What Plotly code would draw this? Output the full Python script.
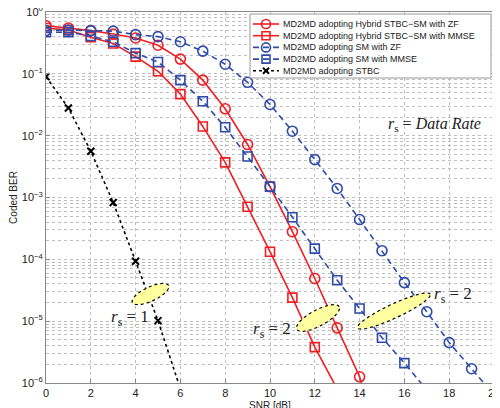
import numpy as np
import plotly.graph_objects as go

# ---------------- data ----------------
hyb_zf_x = list(range(0, 16))
hyb_zf = [0.6, 0.55, 0.50, 0.44, 0.38, 0.29, 0.173, 0.079, 0.0272, 0.0072,
          0.0015, 2.8e-4, 4.9e-5, 7.8e-6, 1.26e-6, 7e-8]

hyb_mmse_x = list(range(0, 14))
hyb_mmse = [0.55, 0.51, 0.39, 0.31, 0.19, 0.11, 0.047, 0.0141, 0.0037, 7.1e-4,
            1.33e-4, 2.4e-5, 3.8e-6, 8e-7]

sm_zf_x = list(range(0, 21))
sm_zf = [0.50, 0.51, 0.50, 0.49, 0.43, 0.40, 0.33, 0.233, 0.143, 0.073,
         0.032, 0.0118, 0.0041, 0.0014, 4.4e-4, 1.38e-4, 4.2e-5, 1.42e-5,
         4.5e-6, 1.7e-6, 6.4e-7]

sm_mmse_x = list(range(0, 18))
sm_mmse = [0.47, 0.47, 0.41, 0.33, 0.216, 0.155, 0.079, 0.036, 0.0137, 0.0046,
           0.0015, 4.8e-4, 1.49e-4, 4.6e-5, 1.6e-5, 5.4e-6, 2.1e-6, 7.7e-7]

stbc_x = list(range(0, 7))
stbc = [0.09, 0.028, 0.0056, 8.3e-4, 9.3e-5, 1.02e-5, 8e-7]

names = ["MD2MD adopting Hybrid STBC\u2212SM with ZF",
         "MD2MD adopting Hybrid STBC\u2212SM with MMSE",
         "MD2MD adopting SM with ZF",
         "MD2MD adopting SM with MMSE",
         "MD2MD adopting STBC"]

x_ticks = list(range(0, 21, 2))
y_tick_exps = [0, -1, -2, -3, -4, -5, -6]

# ---------------- figure ----------------
RED = "rgb(240,30,35)"
BLUE = "rgb(45,75,170)"
BLACK = "black"
OFF = 8                      # page body margin
W, H = 500 - OFF, 408 - OFF
# plot area in window pixels: x 46..494, y 12..383
PX0, PX1, PY0, PY1 = 46, 494, 12, 383
ML, MR, MT, MB = PX0 - OFF, 500 - PX1, PY0 - OFF, 408 - PY1
PW, PH = PX1 - PX0, PY1 - PY0

styles = [
    dict(color=RED, dash="solid", symbol="circle-open", size=10),
    dict(color=RED, dash="solid", symbol="square-open", size=9),
    dict(color=BLUE, dash="6px,4px", symbol="circle-open", size=10),
    dict(color=BLUE, dash="6px,4px", symbol="square-open", size=9),
    dict(color=BLACK, dash="dot", symbol="x-thin-open", size=7),
]
series = [(hyb_zf_x, hyb_zf), (hyb_mmse_x, hyb_mmse), (sm_zf_x, sm_zf),
          (sm_mmse_x, sm_mmse), (stbc_x, stbc)]

fig = go.Figure()
for (xs, ys), st, nm in zip(series, styles, names):
    fig.add_trace(go.Scatter(
        x=xs, y=ys, name=nm, mode="lines+markers", showlegend=False,
        line=dict(color=st["color"], width=1.6, dash=st["dash"]),
        marker=dict(symbol=st["symbol"], size=st["size"], color=st["color"],
                    line=dict(width=2 if st["symbol"].startswith("x") else 1.6, color=st["color"]))))


def px2paper(px, py):
    return (px - PX0) / PW, (PY1 - py) / PH


def ellipse_path(cx, cy, a, b, ang_deg, n=72):
    t = np.linspace(0, 2 * np.pi, n, endpoint=False)
    th = np.deg2rad(ang_deg)
    xs = cx + a * np.cos(t) * np.cos(th) - b * np.sin(t) * np.sin(th)
    ys = cy - (a * np.cos(t) * np.sin(th) + b * np.sin(t) * np.cos(th))
    pts = [px2paper(x, y) for x, y in zip(xs, ys)]
    return "M " + " L ".join(f"{x:.5f},{y:.5f}" for x, y in pts) + " Z"


shapes = []
for (cx, cy, a, b, ang) in [(150.5, 294, 20, 7, 25), (318, 318, 24, 8, 28), (394, 311, 40, 7, 25)]:
    shapes.append(dict(type="path", xref="paper", yref="paper", path=ellipse_path(cx, cy, a, b, ang),
                       fillcolor="rgb(255,255,160)", line=dict(color="black", width=1.2, dash="dot"),
                       layer="above"))

SERIF = "Liberation Serif, Times New Roman, serif"
ann = []
for (txt, px, py, sz) in [("<i>r</i><sub>s</sub> = <i>Data Rate</i>", 434, 124, 16),
                          ("<i>r</i><sub>s</sub> = 1", 130, 318, 17),
                          ("<i>r</i><sub>s</sub> = 2", 272, 330, 17),
                          ("<i>r</i><sub>s</sub> = 2", 453, 295, 17)]:
    x, y = px2paper(px, py)
    ann.append(dict(text=txt, x=x, y=y, xref="paper", yref="paper", showarrow=False,
                    xanchor="center", yanchor="middle", font=dict(family=SERIF, size=sz, color="#222")))

# x-axis title (placed below the tick labels, partly cut by the page edge as in the original)
tx, ty = px2paper(270, 405)
ann.append(dict(text="SNR [dB]", x=tx, y=ty, xref="paper", yref="paper", showarrow=False,
                xanchor="center", yanchor="middle", font=dict(size=10, color="#222")))

# ---------------- legend (drawn as shapes + text) ----------------
def rect_px(x0, y0, x1, y1, **kw):
    a0, b0 = px2paper(x0, y1)
    a1, b1 = px2paper(x1, y0)
    return dict(xref="paper", yref="paper", x0=a0, y0=b0, x1=a1, y1=b1, layer="above", **kw)


shapes.append(rect_px(250, 14, 491, 78, type="rect", fillcolor="white",
                      line=dict(color="#999", width=1)))
for i, (st, nm) in enumerate(zip(styles, names)):
    ry = 24 + 11.7 * i
    lx0, lx1, mx = 253, 279, 266
    a0, b0 = px2paper(lx0, ry)
    a1, _ = px2paper(lx1, ry)
    shapes.append(dict(type="line", xref="paper", yref="paper", x0=a0, y0=b0, x1=a1, y1=b0,
                       line=dict(color=st["color"], width=1.6, dash=st["dash"]), layer="above"))
    if st["symbol"] == "circle-open":
        shapes.append(rect_px(mx - 4.5, ry - 4.5, mx + 4.5, ry + 4.5, type="circle",
                              line=dict(color=st["color"], width=1.6)))
    elif st["symbol"] == "square-open":
        shapes.append(rect_px(mx - 4, ry - 4, mx + 4, ry + 4, type="rect",
                              line=dict(color=st["color"], width=1.6)))
    else:
        for (dx, dy) in [(1, 1), (1, -1)]:
            p0 = px2paper(mx - 3 * dx, ry - 3 * dy)
            p1 = px2paper(mx + 3 * dx, ry + 3 * dy)
            shapes.append(dict(type="line", xref="paper", yref="paper", x0=p0[0], y0=p0[1],
                               x1=p1[0], y1=p1[1], line=dict(color=st["color"], width=2),
                               layer="above"))
    lx, ly = px2paper(281, ry)
    ann.append(dict(text=nm, x=lx, y=ly, xref="paper", yref="paper", showarrow=False,
                    xanchor="left", yanchor="middle", font=dict(size=9, color="#222")))

GRID = "rgb(190,190,190)"
fig.update_layout(
    width=W, height=H,
    margin=dict(l=ML, r=MR, t=MT, b=MB),
    paper_bgcolor="white", plot_bgcolor="white",
    font=dict(family="Liberation Sans, Arial, sans-serif", size=11, color="#222"),
    shapes=shapes, annotations=ann,
    showlegend=False,
    xaxis=dict(range=[0, 20], tickvals=x_ticks, ticktext=[str(v) for v in x_ticks],
               showgrid=True, gridcolor=GRID, griddash="dot", gridwidth=1,
               showline=True, linecolor="#888", linewidth=1, mirror=True,
               ticks="inside", ticklen=4, tickcolor="#888", zeroline=False,
               tickfont=dict(size=11), ticklabeloverflow="allow", automargin=False),
    yaxis=dict(type="log", range=[-6, 0],
               tickvals=[10.0 ** e for e in y_tick_exps],
               ticktext=["10<sup>%s</sup>" % (str(e).replace("-", "\u2212")) for e in y_tick_exps],
               showgrid=True, gridcolor=GRID, griddash="dot", gridwidth=1,
               minor=dict(dtick="D1", showgrid=True, gridcolor=GRID, griddash="dot", ticks=""),
               showline=True, linecolor="#888", linewidth=1, mirror=True,
               ticks="inside", ticklen=4, tickcolor="#888", zeroline=False,
               tickfont=dict(size=11), ticklabeloverflow="allow",
               title=dict(text="Coded BER", font=dict(size=10), standoff=4), automargin=False),
)

fig.write_html("out.html")
